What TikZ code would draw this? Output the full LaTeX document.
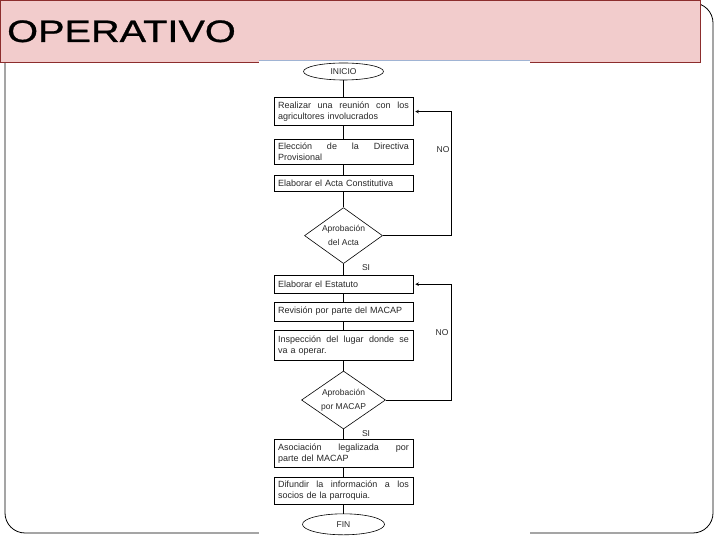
\documentclass[tikz,border=0pt]{standalone}
\usepackage{fontspec}
\setmainfont{Liberation Sans}
\newfontfamily\titulofont[FakeBold=0.8]{Liberation Sans}
\usepackage{graphicx}
\usetikzlibrary{shapes.geometric,arrows,positioning}

\definecolor{rosa}{RGB}{242,204,204}
\definecolor{granate}{RGB}{140,45,45}
\definecolor{celeste}{RGB}{160,180,212}
\definecolor{tinta}{RGB}{40,40,40}

\begin{document}
\begin{tikzpicture}[
    x=1pt, y=1pt,
    node distance=10pt,
    paso/.style={rectangle, draw, line width=0.6pt, text width=131pt, inner sep=4pt, align=left, text=tinta, font=\fontsize{9}{10.5}\selectfont},
    decision/.style={diamond, draw, line width=0.6pt, aspect=1.4, inner sep=0pt, align=center, text=tinta, font=\fontsize{8.5}{9}\selectfont},
    terminal/.style={ellipse, draw, line width=0.6pt, inner sep=0pt, text=tinta, font=\fontsize{8.5}{10}\selectfont},
    etiqueta/.style={text=tinta, font=\fontsize{8.5}{10}\selectfont},
    flecha/.style={->, >=stealth, line width=0.6pt},
    linea/.style={line width=0.6pt},
]
    \useasboundingbox (0,0) rectangle (720,540);
    % marco de la diapositiva
    \draw[line width=0.8pt, rounded corners=20pt] (5,7) rectangle (713,537);
    \node[draw=granate, fill=rosa, line width=0.8pt, minimum width=700pt, minimum height=62pt, inner sep=0pt, anchor=north west] (titulo) at (0,540) {};
    \node[anchor=base west, inner sep=0pt, font=\titulofont\fontsize{31}{31}\selectfont] (optxt) at (7,498) {\scalebox{1.28}[1]{OPERATIVO}};
    % zona del diagrama
    \fill[white] (259,0) rectangle (530,479);
    \draw[celeste, line width=1.6pt] (259,479.5) -- (530,479.5);

    \node[terminal, minimum width=80pt, minimum height=17pt] (inicio) at (343.5,468.5) {INICIO};
    \node[paso, minimum height=28pt, below=17pt of inicio] (b1) {Realizar \hfill una \hfill reunión \hfill con \hfill los\\agricultores involucrados};
    \node[paso, minimum height=25pt, below=13pt of b1] (b2) {Elección \hfill de \hfill la \hfill Directiva\\Provisional};
    \node[paso, minimum height=16pt, below=10pt of b2] (b3) {Elaborar el Acta Constitutiva};
    \node[decision, minimum width=78pt, minimum height=56pt, below=16pt of b3] (d1) {Aprobación\\[5pt]del Acta};
    \node[paso, minimum height=18pt, below=11pt of d1] (b4) {Elaborar el Estatuto};
    \node[paso, minimum height=19pt, below=8pt of b4] (b5) {Revisión por parte del MACAP};
    \node[paso, minimum height=30pt, below=9pt of b5] (b6) {Inspección \hfill del \hfill lugar \hfill donde \hfill se\\va a operar.};
    \node[decision, minimum width=84pt, minimum height=58pt, below=10pt of b6] (d2) {Aprobación\\[5pt]por MACAP};
    \node[paso, minimum height=28pt, below=10pt of d2] (b7) {Asociación \hfill legalizada \hfill por\\parte del MACAP};
    \node[paso, minimum height=27pt, below=9pt of b7] (b8) {Difundir \hfill la \hfill información \hfill a \hfill los\\socios de la parroquia.};
    \node[terminal, minimum width=82pt, minimum height=21pt, below=9pt of b8] (fin) {FIN};

    \draw[linea] (inicio) -- (b1);
    \draw[linea] (b1) -- (b2);
    \draw[linea] (b2) -- (b3);
    \draw[linea] (b3) -- (d1);
    \draw[linea] (d1) -- (b4);
    \draw[linea] (b4) -- (b5);
    \draw[linea] (b5) -- (b6);
    \draw[linea] (b6) -- (d2);
    \draw[linea] (d2) -- (b7);
    \draw[linea] (b7) -- (b8);
    \draw[linea] (b8) -- (fin);

    \draw[flecha] (d1.east) -| ([xshift=38pt]b1.east) -- ([xshift=2pt]b1.east);
    \draw[flecha] (d2.east) -| ([xshift=38pt]b4.east) -- ([xshift=2pt]b4.east);

    \node[etiqueta] (no1) at (443,390) {NO};
    \node[etiqueta] (no2) at (442,207) {NO};
    \node[etiqueta, right=15pt of d1.south, yshift=-4pt] (si1) {SI};
    \node[etiqueta, right=15pt of d2.south, yshift=-4pt] (si2) {SI};
\end{tikzpicture}
\end{document}
